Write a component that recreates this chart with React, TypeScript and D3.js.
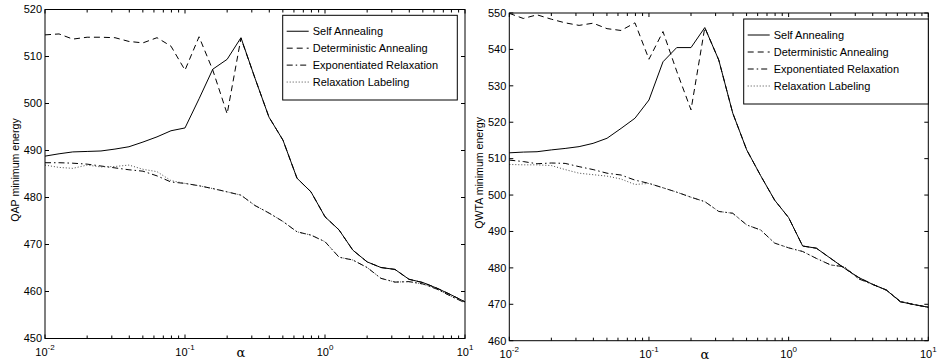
import React from 'react';
import * as d3 from 'd3';

const alphas = [0.01, 0.0126, 0.0158, 0.02, 0.0251, 0.0316, 0.0398, 0.0501, 0.0631, 0.0794, 0.1, 0.126, 0.158, 0.2, 0.251, 0.316, 0.398, 0.501, 0.631, 0.794, 1, 1.26, 1.58, 2, 2.51, 3.16, 3.98, 5.01, 6.31, 7.94, 10];

const seriesNames = ['Self Annealing', 'Deterministic Annealing', 'Exponentiated Relaxation', 'Relaxation Labeling'];

const qapSelf = [488.8, 489.3, 489.7, 489.8, 489.9, 490.3, 490.8, 491.8, 492.9, 494.2, 494.8, 501.0, 507.3, 509.4, 514.0, 505.4, 497.1, 492.2, 484.1, 481.2, 475.9, 473.1, 468.8, 466.3, 465.1, 464.7, 462.6, 461.9, 460.7, 459.3, 457.8];
const qapDet = [514.6, 514.8, 513.7, 514.1, 514.1, 514.0, 513.2, 512.9, 514.0, 512.2, 507.1, 514.2, 507.1, 497.8, 513.9, 505.4, 497.1, 492.2, 484.1, 481.2, 475.9, 473.1, 468.8, 466.3, 465.1, 464.7, 462.6, 461.9, 460.7, 459.3, 457.8];
const qapExp = [487.4, 487.4, 487.3, 487.1, 486.7, 486.3, 485.9, 485.6, 484.6, 483.3, 483.0, 482.5, 481.9, 481.2, 480.5, 478.3, 476.7, 474.9, 472.7, 472.0, 470.6, 467.3, 466.7, 465.1, 462.8, 462.0, 462.1, 461.6, 460.5, 459.0, 457.6];
const qapRelax = [486.9, 486.4, 486.2, 486.9, 486.5, 486.6, 486.9, 486.0, 485.5, 483.6, 483.0, 482.5, 481.9, 481.2, 480.5, 478.3, 476.7, 474.9, 472.7, 472.0, 470.6, 467.3, 466.7, 465.1, 462.8, 462.0, 462.1, 461.6, 460.5, 459.0, 457.6];

const qwtaSelf = [511.6, 511.8, 511.9, 512.4, 512.8, 513.3, 514.2, 515.6, 518.3, 521.1, 526.1, 536.6, 540.5, 540.5, 546.0, 537.1, 522.5, 512.4, 505.3, 498.6, 493.8, 486.0, 485.4, 482.6, 479.9, 477.4, 475.5, 473.9, 470.7, 469.9, 469.2];
const qwtaDet = [549.9, 548.5, 549.5, 548.3, 547.3, 546.6, 547.2, 545.7, 545.2, 547.3, 537.3, 544.9, 534.0, 523.4, 546.0, 537.1, 522.5, 512.4, 505.3, 498.6, 493.8, 486.0, 485.4, 482.6, 479.9, 477.4, 475.5, 473.9, 470.7, 469.9, 469.2];
const qwtaExp = [509.6, 509.2, 508.6, 508.8, 508.7, 507.8, 507.0, 506.0, 505.5, 504.1, 503.2, 502.0, 500.8, 499.4, 498.2, 495.5, 495.0, 491.8, 490.4, 486.8, 485.5, 484.5, 482.6, 480.8, 480.3, 477.0, 475.5, 473.9, 470.8, 469.9, 469.2];
const qwtaRelax = [508.4, 508.3, 508.3, 508.1, 507.0, 506.0, 505.6, 505.2, 504.4, 502.9, 503.2, 502.0, 500.8, 499.4, 498.2, 495.5, 495.0, 491.8, 490.4, 486.8, 485.5, 484.5, 482.6, 480.8, 480.3, 477.0, 475.5, 473.9, 470.8, 469.9, 469.2];

const qapTicks = [450, 460, 470, 480, 490, 500, 510, 520];
const qwtaTicks = [460, 470, 480, 490, 500, 510, 520, 530, 540, 550];
const xDecades = [-2, -1, 0, 1];

const FONT = 'Liberation Sans, Arial, Helvetica, sans-serif';
const dashes = [null, '6,4', '6,3,1.5,3', '1,2'];
const strokes = ['#000', '#000', '#000', '#333'];

type PanelProps = {
  left: number; right: number; top: number; bottom: number;
  yTicks: number[]; ylabel: string; series: number[][];
  legend: { x0: number; x1: number; y0: number; y1: number };
  ylabelX: number;
};

function Panel({ left, right, top, bottom, yTicks, ylabel, series, legend, ylabelX }: PanelProps) {
  const x = d3.scaleLog().domain([0.01, 10]).range([left, right]);
  const y = d3.scaleLinear().domain([yTicks[0], yTicks[yTicks.length - 1]]).range([bottom, top]);
  const line = d3.line<number>().x((_, i) => x(alphas[i])).y((d) => y(d));
  const minor: number[] = [];
  xDecades.slice(0, -1).forEach((e) => {
    for (let m = 2; m <= 9; m++) minor.push(m * Math.pow(10, e));
  });
  const TL = 4;
  const TM = 3;
  const entryH = (legend.y1 - legend.y0) / 5;
  return (
    <g>
      <rect x={left} y={top} width={right - left} height={bottom - top} fill="#fff" />
      <g clipPath="none">
        {series.map((s, i) => (
          <path key={i} d={line(s) || ''} fill="none" stroke={strokes[i]} strokeWidth={i === 3 ? 0.9 : 1}
            strokeDasharray={dashes[i] || undefined} />
        ))}
      </g>
      {/* frame */}
      <rect x={left} y={top} width={right - left} height={bottom - top} fill="none" stroke="#000" strokeWidth={1} />
      {/* y ticks */}
      {yTicks.map((t) => (
        <g key={t}>
          <line x1={left} x2={left + TL} y1={y(t)} y2={y(t)} stroke="#000" />
          <line x1={right} x2={right - TL} y1={y(t)} y2={y(t)} stroke="#000" />
          <text x={left - 3} y={y(t)} dy="0.35em" textAnchor="end" fontSize={11} fontFamily={FONT}>{t}</text>
        </g>
      ))}
      {/* x ticks */}
      {xDecades.map((e) => {
        const v = Math.pow(10, e);
        return (
          <g key={e}>
            <line x1={x(v)} x2={x(v)} y1={bottom} y2={bottom - TL} stroke="#000" />
            <line x1={x(v)} x2={x(v)} y1={top} y2={top + TL} stroke="#000" />
            <text x={x(v)} y={bottom + 17} textAnchor="middle" fontSize={11} fontFamily={FONT}>
              10<tspan dy={-6} fontSize={8}>{e}</tspan>
            </text>
          </g>
        );
      })}
      {minor.map((v) => (
        <g key={v}>
          <line x1={x(v)} x2={x(v)} y1={bottom} y2={bottom - TM} stroke="#000" />
          <line x1={x(v)} x2={x(v)} y1={top} y2={top + TM} stroke="#000" />
        </g>
      ))}
      <text x={(left + right) / 2 - 14} y={bottom + 18} textAnchor="middle" fontSize={13} fontFamily="DejaVu Serif, serif">α</text>
      <text transform={`translate(${ylabelX},${(top + bottom) / 2 - 4}) rotate(-90)`} textAnchor="middle" fontSize={10.6} fontFamily={FONT}>{ylabel}</text>
      {/* legend */}
      <rect x={legend.x0} y={legend.y0} width={legend.x1 - legend.x0} height={legend.y1 - legend.y0} fill="#fff" stroke="#000" strokeWidth={1} />
      {seriesNames.map((n, i) => {
        const cy = legend.y0 + entryH * (i + 1) - 1;
        return (
          <g key={n}>
            <line x1={legend.x0 + 4} x2={legend.x0 + 26} y1={cy} y2={cy} stroke={strokes[i]} strokeWidth={i === 3 ? 0.9 : 1}
              strokeDasharray={dashes[i] || undefined} />
            <text x={legend.x0 + 30} y={cy} dy="0.35em" fontSize={11} fontFamily={FONT}>{n}</text>
          </g>
        );
      })}
    </g>
  );
}

export default function App() {
  return (
    <div style={{ position: 'absolute', left: 0, top: 0 }}>
      <svg width={937} height={362} style={{ display: 'block', background: '#fff' }}>
        <rect width={937} height={362} fill="#fff" />
        <Panel left={45} right={465} top={9.5} bottom={338.5} yTicks={qapTicks} ylabel="QAP minimum energy"
          series={[qapSelf, qapDet, qapExp, qapRelax]} legend={{ x0: 282.7, x1: 457.3, y0: 15.3, y1: 100 }} ylabelX={19} />
        <Panel left={509.3} right={928.3} top={13} bottom={340.7} yTicks={qwtaTicks} ylabel="QWTA minimum energy"
          series={[qwtaSelf, qwtaDet, qwtaExp, qwtaRelax]} legend={{ x0: 743.7, x1: 928.3, y0: 19, y1: 104 }} ylabelX={483} />
      </svg>
    </div>
  );
}
